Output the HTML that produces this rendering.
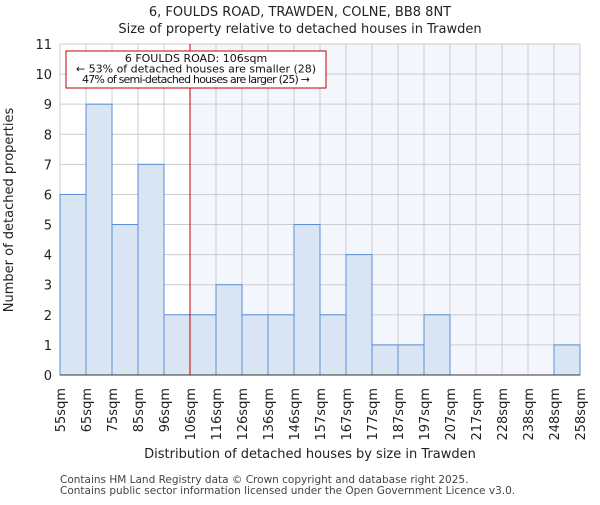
<!DOCTYPE html>
<html><head><meta charset="utf-8"><style>body{margin:0;background:#fff}svg{font-family:"DejaVu Sans","Liberation Sans",sans-serif}</style></head>
<body>
<svg id="c" width="600" height="500"></svg>
<script>
const categories=["55sqm","65sqm","75sqm","85sqm","96sqm","106sqm","116sqm","126sqm","136sqm","146sqm","157sqm","167sqm","177sqm","187sqm","197sqm","207sqm","217sqm","228sqm","238sqm","248sqm","258sqm"];
const counts=[6,9,5,7,2,2,3,2,2,5,2,4,1,1,2,0,0,0,0,1];
const yTicks=[0,1,2,3,4,5,6,7,8,9,10,11];
const markerIndex=5;
const NS="http://www.w3.org/2000/svg",svg=document.getElementById('c');
const X0=60,X1=580,Y0=375,Y1=44,n=counts.length,bw=(X1-X0)/n;
const x=i=>X0+i*bw, y=v=>Y0-(v/11)*(Y0-Y1);
function el(t,a,txt){const e=document.createElementNS(NS,t);for(const k in a)e.setAttribute(k,a[k]);if(txt!=null)e.textContent=txt;svg.appendChild(e);return e;}
let e=el('rect',{x:x(markerIndex),y:Y1,width:X1-x(markerIndex),height:Y0-Y1,fill:'#f3f6fc'});

for(let i=0;i<=n;i++){e=el('line',{x1:x(i),x2:x(i),y1:Y1,y2:Y0,stroke:'#cccccc','stroke-width':1});}
yTicks.forEach(v=>{e=el('line',{x1:X0,x2:X1,y1:y(v),y2:y(v),stroke:'#cccccc','stroke-width':1});
e=el('text',{x:X0-8,y:y(v)+5,'text-anchor':'end','font-size':13,fill:'#222'},v);});
counts.forEach((c,i)=>{if(!c)return;e=el('rect',{x:x(i),y:y(c),width:bw,height:Y0-y(c),fill:'#dae5f4',stroke:'#5a8dd6','stroke-width':1});});
e=el('line',{x1:x(markerIndex),x2:x(markerIndex),y1:Y1,y2:Y0,stroke:'#c00000','stroke-width':1});
e=el('line',{x1:X0,x2:X1,y1:Y0,y2:Y0,stroke:'#333'});
categories.forEach((c,i)=>{e=el('text',{transform:`translate(${x(i)+5},388) rotate(-90)`,'text-anchor':'end','font-size':13,fill:'#222'},c);});
e=el('rect',{x:66,y:51,width:260,height:37,fill:'#fff',stroke:'#c00000','stroke-width':1});
["6 FOULDS ROAD: 106sqm","← 53% of detached houses are smaller (28)","47% of semi-detached houses are larger (25) →"].forEach((t,k)=>{e=el('text',{x:196,y:62+k*10.5,'text-anchor':'middle','font-size':11,fill:'#111',textLength:k==2?228:null},t);if(k!=2)e.removeAttribute('textLength');});
e=el('text',{x:300,y:16,'text-anchor':'middle','font-size':13,fill:'#222'},"6, FOULDS ROAD, TRAWDEN, COLNE, BB8 8NT");
e=el('text',{x:300,y:33,'text-anchor':'middle','font-size':13,fill:'#222'},"Size of property relative to detached houses in Trawden");
e=el('text',{x:310,y:458,'text-anchor':'middle','font-size':13,fill:'#222'},"Distribution of detached houses by size in Trawden");
e=el('text',{transform:'translate(13,210) rotate(-90)','text-anchor':'middle','font-size':13,fill:'#222'},"Number of detached properties");
e=el('text',{x:60,y:483,'font-size':10.5,fill:'#444'},"Contains HM Land Registry data © Crown copyright and database right 2025.");
e=el('text',{x:60,y:494,'font-size':10.5,fill:'#444'},"Contains public sector information licensed under the Open Government Licence v3.0.");
</script>
</body></html>
